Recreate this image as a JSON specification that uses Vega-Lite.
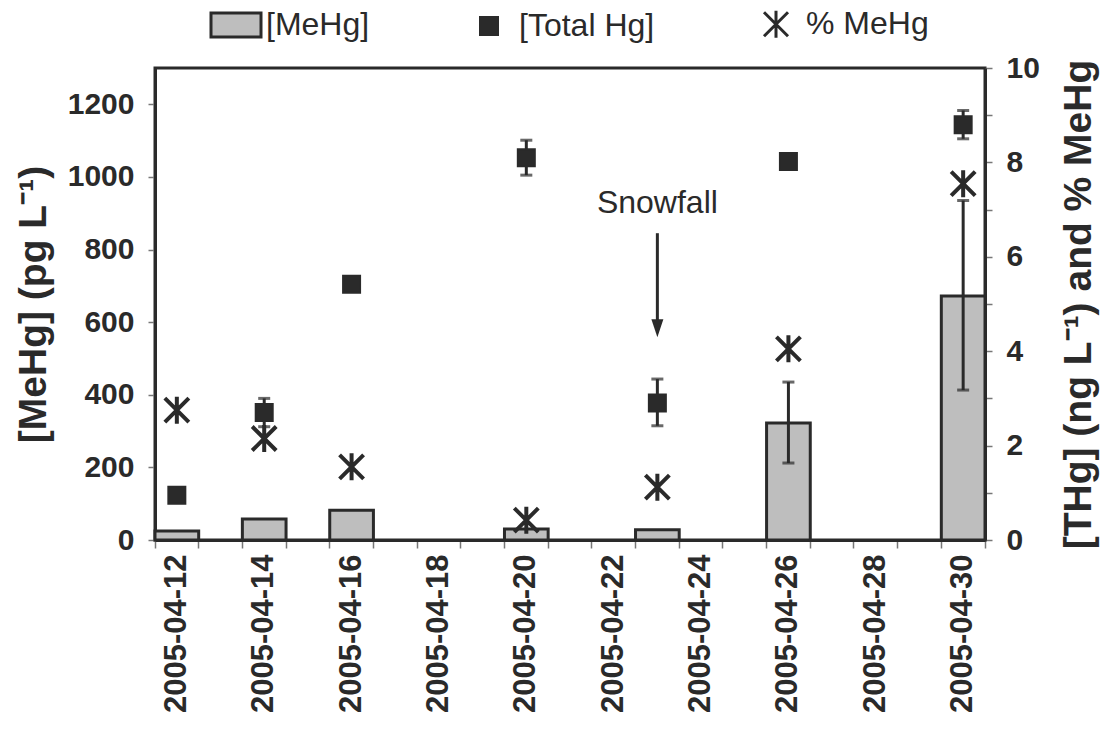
{
  "$schema": "https://vega.github.io/schema/vega-lite/v6.json",
  "width": 830,
  "height": 472,
  "autosize": "none",
  "padding": {"left": 155, "top": 68, "right": 123, "bottom": 198},
  "background": "#ffffff",
  "config": {
    "font": "Liberation Sans",
    "view": {"stroke": "#2a2a2a", "strokeWidth": 3},
    "axis": {
      "grid": false,
      "domainColor": "#2a2a2a",
      "domainWidth": 3,
      "tickColor": "#777777",
      "tickWidth": 1.5,
      "tickSize": 7,
      "labelFont": "Liberation Sans",
      "labelFontSize": 30,
      "labelFontWeight": "bold",
      "labelColor": "#2a2a2a",
      "titleFont": "Liberation Sans",
      "titleFontSize": 39,
      "titleFontWeight": "bold",
      "titleColor": "#2a2a2a"
    },
    "legend": {
      "orient": "none",
      "legendX": 65,
      "legendY": -60,
      "direction": "horizontal",
      "labelFont": "Liberation Sans",
      "labelFontSize": 32,
      "labelColor": "#2a2a2a",
      "labelLimit": 0,
      "labelOffset": 14,
      "columnPadding": 103,
      "symbolSize": 400,
      "symbolStrokeWidth": 3
    }
  },
  "datasets": {
    "main": [
      {"date": "2005-04-12", "mehg": 25, "thg": 0.95, "pct": 2.75},
      {"date": "2005-04-14", "mehg": 58, "thg": 2.7, "thg_lo": 2.4, "thg_hi": 3.0, "pct": 2.15},
      {"date": "2005-04-16", "mehg": 82, "thg": 5.42, "pct": 1.55},
      {"date": "2005-04-20", "mehg": 30, "thg": 8.1, "thg_lo": 7.73, "thg_hi": 8.47, "pct": 0.42},
      {"date": "2005-04-23", "mehg": 28, "thg": 2.9, "thg_lo": 2.42, "thg_hi": 3.41, "pct": 1.12},
      {"date": "2005-04-26", "mehg": 322, "mehg_lo": 212, "mehg_hi": 435, "thg": 8.02, "pct": 4.05},
      {"date": "2005-04-30", "mehg": 672, "mehg_lo": 413, "mehg_hi": 935, "thg": 8.8, "thg_lo": 8.5, "thg_hi": 9.1, "pct": 7.55}
    ],
    "note": [
      {"date": "2005-04-23", "label": "Snowfall", "ty": 900, "r1": 845, "r2": 600, "ay": 583}
    ]
  },
  "data": {"name": "main"},
  "encoding": {
    "x": {
      "field": "date",
      "type": "ordinal",
      "scale": {
        "domain": ["2005-04-12","2005-04-13","2005-04-14","2005-04-15","2005-04-16","2005-04-17","2005-04-18","2005-04-19","2005-04-20","2005-04-21","2005-04-22","2005-04-23","2005-04-24","2005-04-25","2005-04-26","2005-04-27","2005-04-28","2005-04-29","2005-04-30"],
        "paddingInner": 0,
        "paddingOuter": 0
      },
      "axis": {
        "title": null,
        "labelAngle": -90,
        "bandPosition": 1,
        "tickExtra": true,
        "labelExpr": "toNumber(substring(datum.value, 8, 10)) % 2 == 0 ? datum.value : ''",
        "labelFontSize": 31,
        "tickSize": 8,
        "labelPadding": 6,
        "labelBound": false,
        "labelOverlap": false
      }
    }
  },
  "layer": [
    {
      "layer": [
        {
          "mark": {"type": "bar", "strokeWidth": 3},
          "encoding": {
            "y": {
              "field": "mehg", "type": "quantitative",
              "scale": {"domain": [0, 1300], "nice": false},
              "axis": {
                "title": "[MeHg] (pg L⁻¹)",
                "values": [0,100,200,300,400,500,600,700,800,900,1000,1100,1200],
                "format": "d",
                "labelExpr": "datum.value % 200 == 0 ? datum.label : ''",
                "labelPadding": 14,
                "titlePadding": 14
              }
            },
            "fill": {
              "datum": "[MeHg]", "type": "nominal",
              "scale": {"domain": ["[MeHg]", "[Total Hg]", "% MeHg"], "range": ["#bebebe", "#2a2a2a", "#2a2a2a"]},
              "legend": {"title": null}
            },
            "stroke": {
              "datum": "[MeHg]", "type": "nominal",
              "scale": {"domain": ["[MeHg]", "[Total Hg]", "% MeHg"], "range": ["#2a2a2a", "#2a2a2a", "#2a2a2a"]},
              "legend": {"title": null}
            }
          }
        },
        {
          "mark": {"type": "rule", "color": "#2a2a2a", "strokeWidth": 3},
          "encoding": {
            "y": {"field": "mehg_lo", "type": "quantitative", "scale": {"domain": [0, 1300], "nice": false}},
            "y2": {"field": "mehg_hi"}
          }
        },
        {
          "mark": {"type": "tick", "color": "#2a2a2a", "thickness": 3, "size": 12},
          "encoding": {"y": {"field": "mehg_lo", "type": "quantitative", "scale": {"domain": [0, 1300], "nice": false}}}
        },
        {
          "mark": {"type": "tick", "color": "#2a2a2a", "thickness": 3, "size": 12},
          "encoding": {"y": {"field": "mehg_hi", "type": "quantitative", "scale": {"domain": [0, 1300], "nice": false}}}
        },
        {
          "data": {"name": "note"},
          "mark": {"type": "text", "fontSize": 32, "color": "#2a2a2a", "baseline": "alphabetic", "align": "center", "font": "Liberation Sans"},
          "encoding": {
            "y": {"field": "ty", "type": "quantitative", "scale": {"domain": [0, 1300], "nice": false}},
            "text": {"field": "label"}
          }
        },
        {
          "data": {"name": "note"},
          "mark": {"type": "rule", "color": "#2a2a2a", "strokeWidth": 3},
          "encoding": {
            "y": {"field": "r1", "type": "quantitative", "scale": {"domain": [0, 1300], "nice": false}},
            "y2": {"field": "r2"}
          }
        },
        {
          "data": {"name": "note"},
          "mark": {"type": "point", "shape": "M-0.6,-0.9L0.6,-0.9L0,0.9Z", "filled": true, "size": 400, "color": "#2a2a2a", "opacity": 1},
          "encoding": {
            "y": {"field": "ay", "type": "quantitative", "scale": {"domain": [0, 1300], "nice": false}}
          }
        }
      ]
    },
    {
      "layer": [
        {
          "mark": {"type": "rule", "color": "#2a2a2a", "strokeWidth": 3},
          "encoding": {
            "y": {
              "field": "thg_lo", "type": "quantitative",
              "scale": {"domain": [0, 10], "nice": false},
              "axis": {
                "orient": "right",
                "title": "[THg] (ng L⁻¹) and % MeHg",
                "titleAngle": 270,
                "titleBaseline": "top",
                "values": [0,1,2,3,4,5,6,7,8,9,10],
                "labelExpr": "datum.value % 2 == 0 ? datum.label : ''",
                "labelPadding": 14,
                "titlePadding": 20
              }
            },
            "y2": {"field": "thg_hi"}
          }
        },
        {
          "mark": {"type": "tick", "color": "#2a2a2a", "thickness": 3, "size": 12},
          "encoding": {"y": {"field": "thg_lo", "type": "quantitative", "scale": {"domain": [0, 10], "nice": false}}}
        },
        {
          "mark": {"type": "tick", "color": "#2a2a2a", "thickness": 3, "size": 12},
          "encoding": {"y": {"field": "thg_hi", "type": "quantitative", "scale": {"domain": [0, 10], "nice": false}}}
        },
        {
          "mark": {"type": "point", "filled": true, "size": 400, "opacity": 1},
          "encoding": {
            "y": {"field": "thg", "type": "quantitative", "scale": {"domain": [0, 10], "nice": false}},
            "fill": {"datum": "[Total Hg]", "type": "nominal", "legend": {"title": null}},
            "stroke": {"datum": "[Total Hg]", "type": "nominal", "legend": {"title": null}},
            "shape": {
              "datum": "[Total Hg]", "type": "nominal",
              "scale": {"domain": ["[MeHg]", "[Total Hg]", "% MeHg"], "range": ["M-2.5,-1.2H2.5V1.2H-2.5Z", "M-0.85,-0.85H0.85V0.85H-0.85Z", "M-1.2,-1.2L1.2,1.2M-1.2,1.2L1.2,-1.2M0,-1.35V1.35"]},
              "legend": {"title": null}
            }
          }
        },
        {
          "mark": {"type": "point", "filled": false, "size": 400, "strokeWidth": 4, "opacity": 1},
          "encoding": {
            "y": {"field": "pct", "type": "quantitative", "scale": {"domain": [0, 10], "nice": false}},
            "fill": {"datum": "% MeHg", "type": "nominal", "legend": {"title": null}},
            "stroke": {"datum": "% MeHg", "type": "nominal", "legend": {"title": null}},
            "shape": {"datum": "% MeHg", "type": "nominal", "legend": {"title": null}}
          }
        }
      ]
    }
  ],
  "resolve": {"scale": {"y": "independent"}}
}
